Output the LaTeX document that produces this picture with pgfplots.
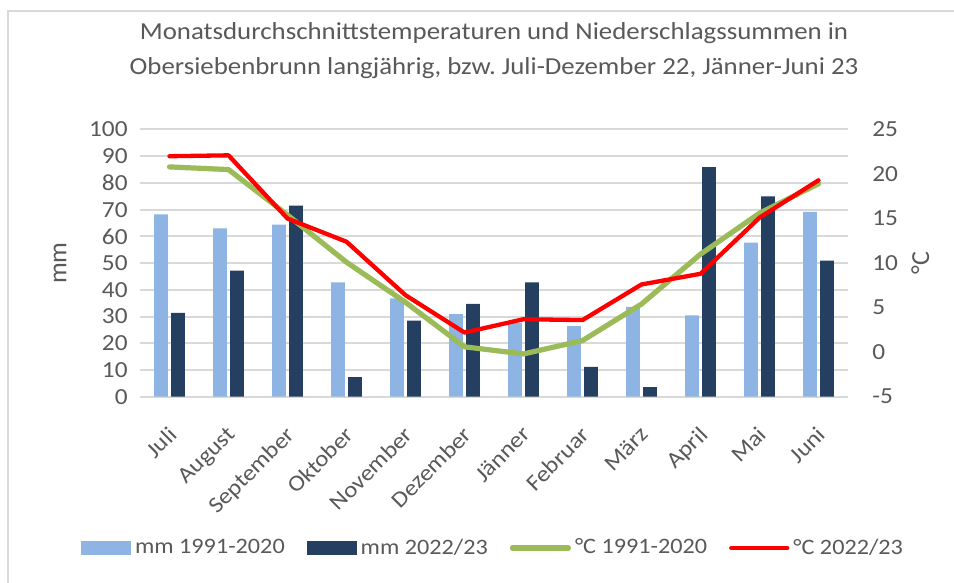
\documentclass[border=0pt]{standalone}
\usepackage{pgfplots}
\pgfplotsset{compat=1.18}
\usepackage{pgfplotstable}
\usepackage{fontspec}
\setmainfont{Carlito}[FakeStretch=1.1]
\newfontfamily\plainfont{Carlito}
\definecolor{lb}{HTML}{8EB4E3}
\definecolor{nv}{HTML}{243F60}
\definecolor{gr}{HTML}{9BBB59}
\definecolor{rd}{HTML}{FF0000}
\definecolor{gridc}{HTML}{D9D9D9}
\definecolor{txt}{HTML}{595959}
\pgfplotsset{
  barlegend/.style={legend image code/.code={\fill[##1] (0pt,-3.5pt) rectangle (25pt,3.5pt);}},
  linelegend/.style={legend image code/.code={\draw[##1] (0pt,0pt) -- (28pt,0pt);}},
}
\pgfplotstableread{
x mmA mmB tA tB
0 68.2 31.4 20.8 22.0
1 63.0 47.2 20.5 22.1
2 64.4 71.5 15.4 15.0
3 42.8 7.3 10.1 12.4
4 36.8 28.5 5.6 6.4
5 30.9 34.7 0.6 2.2
6 27.6 42.8 -0.2 3.7
7 26.4 11.2 1.3 3.6
8 33.6 3.6 5.4 7.6
9 30.4 85.9 11.0 8.8
10 57.7 75.0 15.6 15.1
11 69.2 50.9 18.9 19.3
}\data
\begin{document}
\frenchspacing
\begin{tikzpicture}
\path[use as bounding box, fill=white] (0,0) rectangle (477pt,291.5pt);
\draw[gridc, line width=1pt] (3.75pt,0) -- (3.75pt,286pt) -- (477pt,286pt);
\node[text=txt, align=center, font=\fontsize{12.2}{17.5}\selectfont] at (247pt,266pt)
  {Monatsdurchschnittstemperaturen und Niederschlagssummen in\\Obersiebenbrunn langjährig, bzw. Juli-Dezember 22, Jänner-Juni 23};
\begin{axis}[
  at={(70pt,93.15pt)}, anchor=south west, scale only axis,
  width=354pt, height=133.6pt,
  xmin=-0.5, xmax=11.5, ymin=0, ymax=100,
  xtick={0,...,11},
  xticklabels={Juli,August,September,Oktober,November,Dezember,Jänner,Februar,März,April,Mai,Juni},
  ytick={0,10,...,100},
  ymajorgrids, grid style={gridc, line width=1pt},
  axis line style={draw=none}, major tick length=0pt,
  tick label style={text=txt, font=\fontsize{11.5}{13}\selectfont},
  /pgf/number format/assume math mode=true,
  yticklabel style={inner sep=0pt, xshift=-6pt},
  xticklabel style={xshift=-1.25pt, yshift=-14pt, rotate=45, anchor=north east, inner sep=0pt, font=\fontsize{11.3}{13}\selectfont},
  ylabel={mm},
  every axis y label/.style={at={(axis description cs:-0.113,0.5)}, rotate=90, anchor=center, text=txt, font=\plainfont\fontsize{13}{15}\selectfont},
  clip=false,
]
\addplot[ybar, bar width=6.8pt, bar shift=-4.25pt, fill=lb, draw=none] table[x=x,y=mmA]{\data};
\addplot[ybar, bar width=6.8pt, bar shift=4.25pt, fill=nv, draw=none] table[x=x,y=mmB]{\data};
\end{axis}
\begin{axis}[
  at={(70pt,93.15pt)}, anchor=south west, scale only axis,
  width=354pt, height=133.6pt,
  xmin=-0.5, xmax=11.5, ymin=-5, ymax=25,
  ytick={-5,0,...,25},
  axis x line=none, axis y line*=right,
  axis line style={draw=none}, major tick length=0pt,
  tick label style={text=txt, font=\fontsize{11.5}{13}\selectfont},
  /pgf/number format/assume math mode=true,
  yticklabel style={inner sep=0pt, anchor=west, xshift=12pt},
  ylabel={°C},
  every axis y label/.style={at={(axis description cs:1.102,0.5)}, rotate=90, anchor=center, text=txt, font=\plainfont\fontsize{13}{15}\selectfont},
  legend style={at={(0.5,-0.566)}, anchor=center, draw=none, fill=none, text=txt,
     font=\fontsize{11}{13}\selectfont, legend columns=4,
     /tikz/every even column/.append style={column sep=9pt}},
  legend cell align=left,
  clip=false,
]
\addlegendimage{barlegend, fill=lb, draw=none}
\addlegendentry{mm 1991-2020}
\addlegendimage{barlegend, fill=nv, draw=none}
\addlegendentry{mm 2022/23}
\addplot[gr, line width=2.6pt, line join=round, line cap=round, linelegend] table[x=x,y=tA]{\data};
\addlegendentry{°C 1991-2020}
\addplot[rd, line width=2.15pt, line join=round, line cap=round, linelegend] table[x=x,y=tB]{\data};
\addlegendentry{°C 2022/23}
\end{axis}
\end{tikzpicture}
\end{document}
